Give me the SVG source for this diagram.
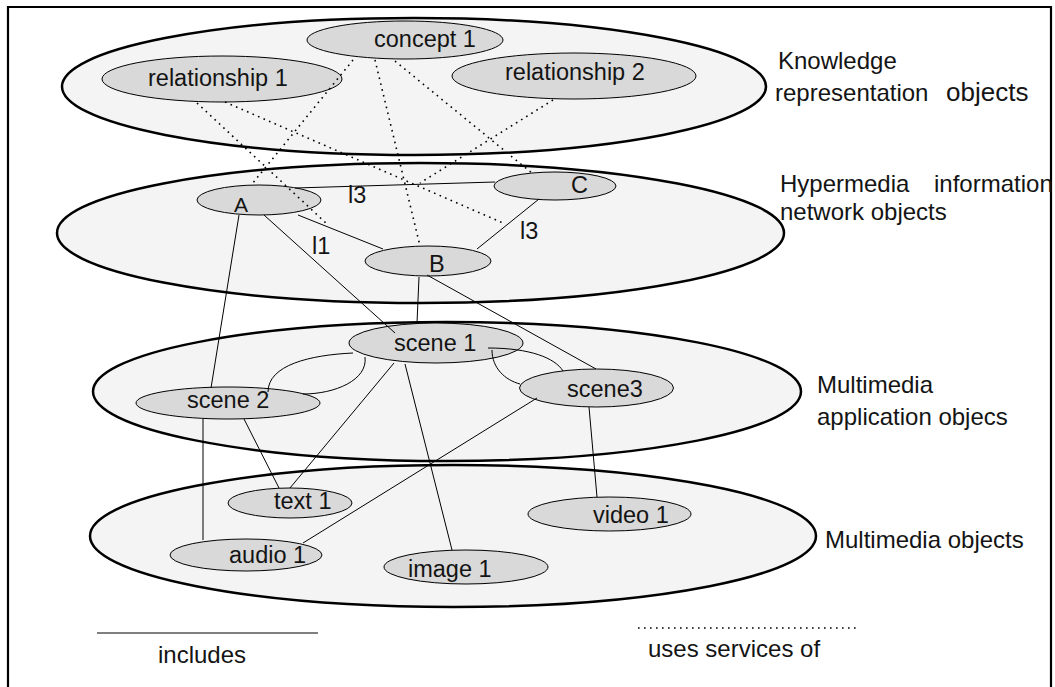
<svg xmlns="http://www.w3.org/2000/svg" width="1055" height="687" viewBox="0 0 1055 687">
<style>
text{font-family:"Liberation Sans",Arial,sans-serif;font-size:23.5px;fill:#141414}
.lbl{font-size:24px}
.layer{fill:#f4f4f4;stroke:#000;stroke-width:2.5}
.node{fill:#d9d9d9;stroke:#000;stroke-width:1}
.inc{fill:none;stroke:#000;stroke-width:1}
.use{fill:none;stroke:#000;stroke-width:1.6;stroke-dasharray:1.6 4.4}
</style>
<rect width="1055" height="687" fill="#fff"/>
<path d="M8,690 V7 H1051 V690" fill="none" stroke="#000" stroke-width="2.2"/>
<g id="layer-knowledge"><ellipse class="layer" cx="414" cy="86.5" rx="352" ry="68.5"/></g>
<g id="layer-hypermedia"><ellipse class="layer" cx="420.5" cy="233" rx="363.5" ry="70"/></g>
<g id="layer-application"><ellipse class="layer" cx="447" cy="391.5" rx="354" ry="69.5"/></g>
<g id="layer-objects"><ellipse class="layer" cx="453" cy="536" rx="363" ry="71"/></g>
<g id="concept1"><ellipse class="node" cx="405" cy="40" rx="98" ry="19" stroke-width="2.2"/><text x="374" y="47">concept 1</text></g>
<g id="relationship1"><ellipse class="node" cx="222" cy="79" rx="120" ry="23" stroke-width="1.8"/><text x="148" y="86">relationship 1</text></g>
<g id="relationship2"><ellipse class="node" cx="574" cy="76" rx="122" ry="23" stroke-width="1.6"/><text x="505" y="80">relationship 2</text></g>
<g id="A"><ellipse class="node" cx="259" cy="200" rx="62" ry="15"/><text x="234" y="212" style="font-size:21px">A</text></g>
<g id="C"><ellipse class="node" cx="555" cy="186" rx="61" ry="14"/><text x="571" y="193">C</text></g>
<g id="B"><ellipse class="node" cx="428" cy="261" rx="63" ry="15"/><text x="429" y="272">B</text></g>
<g id="scene1"><ellipse class="node" cx="436" cy="343" rx="87" ry="20" stroke-width="2.8"/><text x="394" y="351">scene 1</text></g>
<g id="scene2"><ellipse class="node" cx="228" cy="403" rx="92" ry="16" stroke-width="2"/><text x="187" y="408">scene 2</text></g>
<g id="scene3"><ellipse class="node" cx="596.5" cy="388" rx="77" ry="19"/><text x="567" y="397">scene3</text></g>
<g id="text1"><ellipse class="node" cx="290" cy="503" rx="62" ry="15"/><text x="274" y="509">text 1</text></g>
<g id="audio1"><ellipse class="node" cx="246" cy="555" rx="76" ry="16"/><text x="229" y="563">audio 1</text></g>
<g id="image1"><ellipse class="node" cx="466" cy="567" rx="82" ry="17"/><text x="408" y="577">image 1</text></g>
<g id="video1"><ellipse class="node" cx="609.5" cy="514" rx="81.5" ry="17"/><text x="593" y="523">video 1</text></g>
<g id="connectors">
<line class="use" x1="353" y1="60" x2="252" y2="184"/>
<line class="use" x1="197" y1="103" x2="327" y2="224"/>
<line class="use" x1="225" y1="102" x2="503" y2="223"/>
<line class="use" x1="375" y1="60" x2="420" y2="246"/>
<line class="use" x1="395" y1="61" x2="533" y2="174"/>
<line class="use" x1="553" y1="100" x2="420" y2="183"/>
<line class="inc" x1="295" y1="188" x2="495" y2="182"/>
<line class="inc" x1="298" y1="215" x2="383" y2="249"/>
<line class="inc" x1="539" y1="199" x2="477" y2="249"/>
<line class="inc" x1="239" y1="215" x2="211" y2="388"/>
<line class="inc" x1="264" y1="215" x2="395" y2="333"/>
<line class="inc" x1="419" y1="277" x2="417" y2="323"/>
<line class="inc" x1="427" y1="275" x2="596" y2="369"/>
<path class="inc" d="M353,353 C310,355 268,365 268,392"/>
<path class="inc" d="M365,357 C368,380 335,394 303,394"/>
<path class="inc" d="M488,348 C530,348 555,358 563,371"/>
<path class="inc" d="M492,350 C492,368 505,380 520,384"/>
<line class="inc" x1="394" y1="363" x2="290" y2="488"/>
<line class="inc" x1="405" y1="364" x2="452" y2="550"/>
<line class="inc" x1="537" y1="398" x2="303" y2="543"/>
<line class="inc" x1="589" y1="407" x2="597" y2="497"/>
<line class="inc" x1="203" y1="419" x2="203" y2="540"/>
<line class="inc" x1="244" y1="419" x2="279" y2="488"/>
</g>
<g id="link-labels">
<text x="348" y="203">l3</text>
<text x="312" y="254">l1</text>
<text x="520" y="239">l3</text>
</g>
<g id="layer-labels">
<text class="lbl" x="778" y="69">Knowledge</text>
<text class="lbl" x="775" y="101">representation</text>
<text x="946" y="101" style="font-size:26px">objects</text>
<text class="lbl" x="780" y="192">Hypermedia</text>
<text class="lbl" x="934" y="192">information</text>
<text class="lbl" x="780" y="220">network objects</text>
<text class="lbl" x="817" y="393">Multimedia</text>
<text class="lbl" x="817" y="425">application objecs</text>
<text class="lbl" x="825" y="548">Multimedia objects</text>
</g>
<g id="legend">
<line x1="97" y1="633" x2="318" y2="633" stroke="#555" stroke-width="1.3"/>
<text class="lbl" x="158" y="663">includes</text>
<line class="use" x1="638" y1="628" x2="856" y2="628"/>
<text class="lbl" x="648" y="657">uses services of</text>
</g>
</svg>
